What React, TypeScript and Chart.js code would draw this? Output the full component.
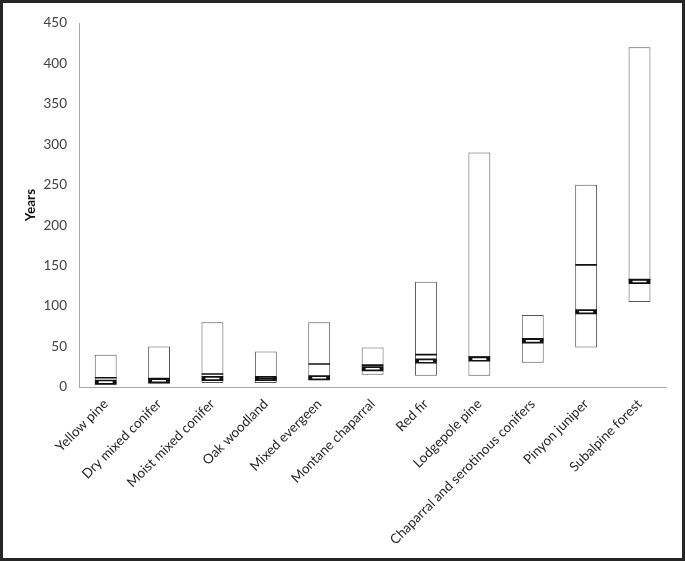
import React, { useEffect, useRef } from "react";
import { Chart, registerables } from "chart.js";

Chart.register(...registerables);

const categories = [
  "Yellow pine",
  "Dry mixed conifer",
  "Moist mixed conifer",
  "Oak woodland",
  "Mixed evergeen",
  "Montane chaparral",
  "Red fir",
  "Lodgepole pine",
  "Chaparral and serotinous conifers",
  "Pinyon juniper",
  "Subalpine forest",
];
const minValues = [3, 4, 5, 5, 8.5, 15, 14, 14, 30, 49, 105];
const maxValues = [40, 50, 80, 44, 80, 49, 130, 290, 89, 250, 420];
const meanValues = [11.5, 10.5, 16, 10.5, 28.5, 27, 40, 37, 59.5, 151, 133];
const medianValues = [6, 7.7, 10.5, 10.5, 11.5, 22.5, 32, 34.5, 57, 93, 130.5];
const yTickValues = [0, 50, 100, 150, 200, 250, 300, 350, 400, 450];

export default function App() {
  const canvasRef = useRef<HTMLCanvasElement | null>(null);

  useEffect(() => {
    document.body.style.margin = "0";
    const canvas = canvasRef.current;
    if (!canvas) return;
    Chart.defaults.font.family = "Lato";
    const ranges = minValues.map((mn, i) => [mn, maxValues[i]]);
    const chart = new Chart(canvas, {
      type: "bar",
      data: {
        labels: categories,
        datasets: [
          {
            type: "line",
            label: "Mean",
            data: meanValues,
            showLine: false,
            pointStyle: "line",
            pointRadius: 10.8,
            pointHoverRadius: 10.8,
            pointBorderWidth: 1.6,
            pointBorderColor: "#111",
            pointBackgroundColor: "#111",
            order: 1,
          } as any,
          {
            type: "line",
            label: "Median inner",
            data: medianValues,
            showLine: false,
            pointStyle: "line",
            pointRadius: 7,
            pointHoverRadius: 7,
            pointBorderWidth: 1.6,
            pointBorderColor: "#ffffff",
            pointBackgroundColor: "#ffffff",
            order: 2,
          } as any,
          {
            type: "line",
            label: "Median",
            data: medianValues,
            showLine: false,
            pointStyle: "line",
            pointRadius: 10.8,
            pointHoverRadius: 10.8,
            pointBorderWidth: 5,
            pointBorderColor: "#111",
            pointBackgroundColor: "#111",
            order: 3,
          } as any,
          {
            type: "bar",
            label: "Range",
            data: ranges as any,
            backgroundColor: "#ffffff",
            borderColor: "#555555",
            borderWidth: 1,
            borderSkipped: false,
            barPercentage: 0.41,
            categoryPercentage: 1,
            order: 4,
          } as any,
        ],
      },
      options: {
        animation: false,
        responsive: true,
        maintainAspectRatio: false,
        layout: { padding: { top: 15, right: 14, left: 0, bottom: 0 } },
        plugins: {
          legend: { display: false },
          tooltip: { enabled: false },
        },
        scales: {
          x: {
            grid: { display: false, drawTicks: false },
            border: { display: true, color: "#a6a6a6", width: 1 },
            ticks: {
              color: "#262626",
              font: { size: 13.5 },
              maxRotation: 45,
              minRotation: 45,
              autoSkip: false,
              padding: 9,
            },
            afterFit: (scale: any) => {
              scale.height = 171;
            },
          },
          y: {
            min: 0,
            max: 450,
            grid: { display: false, drawTicks: false },
            border: { display: true, color: "#a6a6a6", width: 1 },
            afterBuildTicks: (scale: any) => {
              scale.ticks = yTickValues.map((v) => ({ value: v }));
            },
            ticks: {
              color: "#404040",
              font: { size: 13.5 },
              padding: 12,
            },
            title: {
              display: true,
              text: "Years",
              color: "#111",
              font: { size: 13.5, weight: "bold" },
              padding: { top: 20, bottom: 0 },
            },
            afterFit: (scale: any) => {
              scale.width = 76;
            },
          },
        },
      },
    });
    return () => chart.destroy();
  }, []);

  return (
    <div
      style={{
        width: 685,
        height: 561,
        boxSizing: "border-box",
        border: "3px solid #262626",
        background: "#ffffff",
        position: "relative",
      }}
    >
      <div style={{ position: "relative", width: 679, height: 555 }}>
        <canvas ref={canvasRef} />
      </div>
    </div>
  );
}
